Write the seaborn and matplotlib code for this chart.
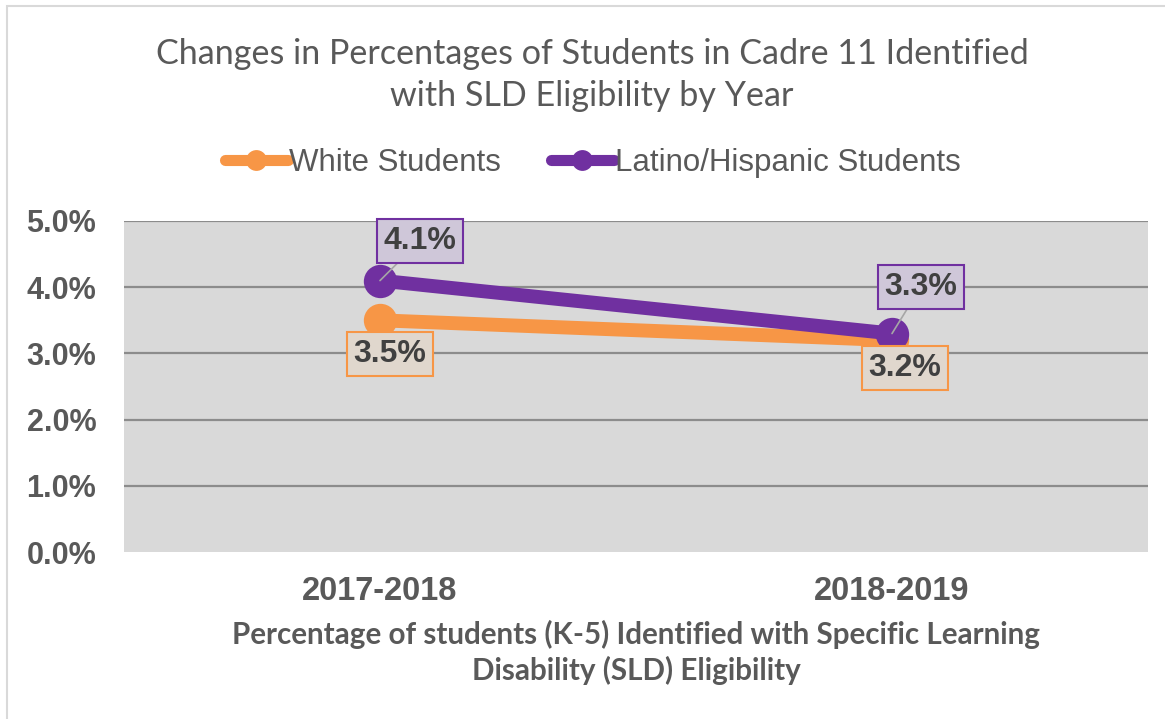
import matplotlib
matplotlib.use('Agg')
import matplotlib.pyplot as plt
import seaborn as sns
import pandas as pd
from matplotlib.patches import Rectangle
from matplotlib.lines import Line2D

# ---- data ----
years = ['2017-2018', '2018-2019']
white_values = [3.5, 3.2]
latino_values = [4.1, 3.3]
series_names = ['White Students', 'Latino/Hispanic Students']
ytick_values = [0, 1, 2, 3, 4, 5]
ytick_labels = ['0.0%', '1.0%', '2.0%', '3.0%', '4.0%', '5.0%']
title_text = 'Changes in Percentages of Students in Cadre 11 Identified\nwith SLD Eligibility by Year'
xlabel_text = 'Percentage of students (K-5) Identified with Specific Learning\nDisability (SLD) Eligibility'

df = pd.DataFrame({
    'Year': years * 2,
    'Value': white_values + latino_values,
    'Group': [series_names[0]] * len(years) + [series_names[1]] * len(years),
})

ORANGE = '#f79646'
PURPLE = '#7030a0'
palette = {series_names[0]: ORANGE, series_names[1]: PURPLE}

sns.set_theme(style='white')
plt.rcParams['font.family'] = ['Liberation Sans', 'DejaVu Sans']

W, H = 1165, 719
fig = plt.figure(figsize=(W / 100, H / 100), dpi=100)
fig.patch.set_facecolor('white')

# outer chart frame
fig.patches.append(Rectangle((7 / W, -0.05), 1.2, 1 - 6 / H + 0.05,
                             transform=fig.transFigure, fill=False,
                             ec='#d9d9d9', lw=1.5))

ax = fig.add_axes([124 / W, (H - 552) / H, 1024 / W, 331 / H])
ax.set_facecolor('#d9d9d9')

sns.lineplot(data=df, x='Year', y='Value', hue='Group', palette=palette,
             hue_order=series_names, marker='o', markersize=24,
             markeredgewidth=0, linewidth=10, sort=False, legend=False, ax=ax)

ax.set_xlim(-0.5, 1.5)
ax.set_ylim(0, 5)
ax.set_yticks(ytick_values)
ax.set_yticklabels(ytick_labels, fontweight='bold', color='#595959', fontsize=22)
ax.set_xticks(range(len(years)))
ax.set_xticklabels(years, fontweight='bold', color='#595959', fontsize=23.5)
ax.tick_params(axis='y', length=0, pad=20)
ax.tick_params(axis='x', length=0, pad=17)
for s in ax.spines.values():
    s.set_visible(False)
ax.yaxis.grid(True, color='#8c8c8c', lw=1.6)
ax.xaxis.grid(False)
ax.set_axisbelow(True)
ax.get_ygridlines()[0].set_visible(False)
ax.set_ylabel('')

ax.set_xlabel(xlabel_text, fontsize=21.3, fontweight='bold', color='#595959',
              family=['Lato', 'DejaVu Sans'], linespacing=1.3, va='top')
ax.xaxis.set_label_coords(0.5, -0.205)

# data labels
label_specs = [
    (white_values, ORANGE, '#e0d7cd', [(10, -34), (13, -28)], False),
    (latino_values, PURPLE, '#cfc7d9', [(40, 40), (29, 47)], True),
]
for vals, ec, fc, offs, leader in label_specs:
    for i, v in enumerate(vals):
        dx, dy = offs[i]
        ax.annotate(f'{v:.1f}%', xy=(i, v), xytext=(dx, dy),
                    textcoords='offset pixels', ha='center', va='center',
                    fontsize=23, fontweight='bold', color='#404040',
                    bbox=dict(boxstyle='square,pad=0.22', fc=fc, ec=ec, lw=1.5),
                    arrowprops=dict(arrowstyle='-', color='#a6a6a6', lw=1.2,
                                    shrinkA=0, shrinkB=0) if leader else None,
                    zorder=5)

# title
fig.text(592 / W, 1 - 75 / H, title_text, ha='center', va='center',
         fontsize=24.6, color='#595959', family=['Lato', 'DejaVu Sans'],
         linespacing=1.4)

# legend
handles = [Line2D([0], [0], color=palette[n], lw=8, marker='o', markersize=15,
                  markeredgewidth=0) for n in series_names]
fig.legend(handles, series_names, loc='center', bbox_to_anchor=(593 / W, 1 - 163 / H),
           ncol=2, frameon=False, fontsize=22.5, handlelength=2.0,
           handletextpad=0.05, columnspacing=1.6, labelcolor='#595959')

fig.savefig('out.png', dpi=100)
